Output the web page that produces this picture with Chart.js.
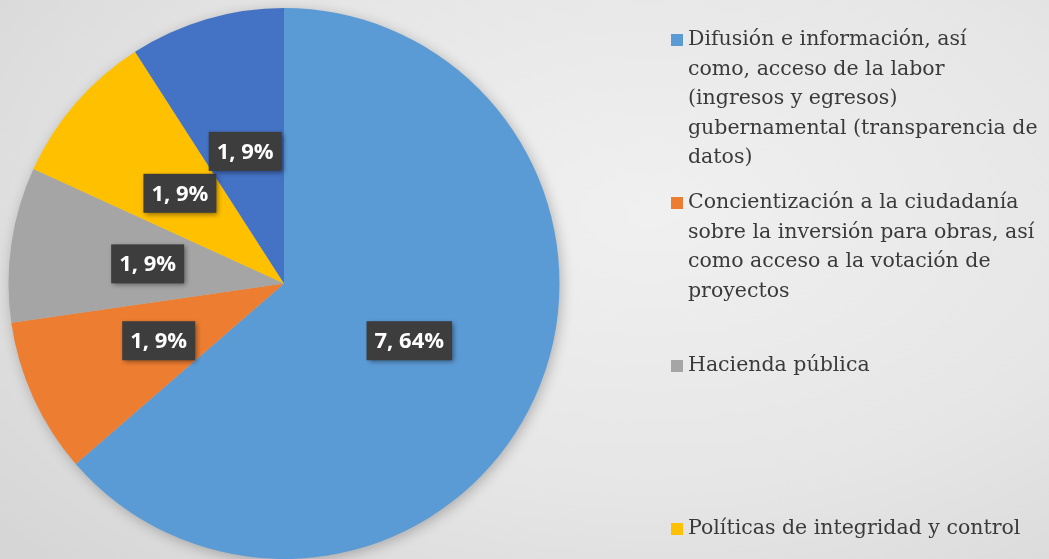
<!DOCTYPE html>
<html lang="es">
<head>
    <meta charset="UTF-8">
    <title>Pastel</title>
    <script src="https://cdn.jsdelivr.net/npm/chart.js@4.4.1/dist/chart.umd.min.js"></script>
    <style>
        html, body {
            margin: 0;
            padding: 0;
            overflow: hidden;
        }
        #wrap {
            width: 1049px;
            height: 559px;
            position: relative;
            background: radial-gradient(ellipse 80% 90% at 62% 38%, #f0f0f0 0%, #e6e6e6 55%, #d6d6d6 100%);
        }
    </style>
</head>
<body>
    <div id="wrap">
        <canvas id="pie" width="1049" height="559"></canvas>
    </div>

    <script>
        // categorias (la quinta queda fuera de la imagen)
        const categories = [
            ['Difusión e información, así', 'como, acceso de la labor', '(ingresos y egresos)', 'gubernamental (transparencia de', 'datos)'],
            ['Concientización a la ciudadanía', 'sobre la inversión para obras, así', 'como acceso a la votación de', 'proyectos'],
            ['Hacienda pública'],
            ['Políticas de integridad y control'],
            ['Otros']
        ];
        const values = [7, 1, 1, 1, 1];
        const colors = ['#5B9BD5', '#ED7D31', '#A5A5A5', '#FFC000', '#4472C4'];

        const total = values.reduce((a, b) => a + b, 0);

        // sombra suave debajo del pastel
        const shadowPlugin = {
            id: 'pieShadow',
            beforeDatasetsDraw(chart) {
                const arc = chart.getDatasetMeta(0).data[0];
                if (!arc) return;
                const ctx = chart.ctx;
                ctx.save();
                ctx.shadowColor = 'rgba(0,0,0,0.28)';
                ctx.shadowBlur = 14;
                ctx.shadowOffsetX = 2;
                ctx.shadowOffsetY = 3;
                ctx.fillStyle = '#bbbbbb';
                ctx.beginPath();
                ctx.arc(arc.x, arc.y, arc.outerRadius - 1, 0, Math.PI * 2);
                ctx.fill();
                ctx.restore();
            }
        };

        // etiquetas "valor, porcentaje" en cajas oscuras
        const boxLabels = {
            id: 'boxLabels',
            afterDatasetsDraw(chart) {
                const ctx = chart.ctx;
                const meta = chart.getDatasetMeta(0);
                ctx.save();
                ctx.font = 'bold 22px "Open Sans", Lato, sans-serif';
                ctx.textAlign = 'center';
                ctx.textBaseline = 'middle';
                meta.data.forEach((arc, i) => {
                    const pos = arc.tooltipPosition();
                    const txt = values[i] + ', ' + Math.round(values[i] / total * 100) + '%';
                    const w = ctx.measureText(txt).width + 16;
                    const h = 39;
                    ctx.save();
                    ctx.shadowColor = 'rgba(0,0,0,0.45)';
                    ctx.shadowBlur = 5;
                    ctx.shadowOffsetX = 2;
                    ctx.shadowOffsetY = 2;
                    ctx.fillStyle = '#3d3d3d';
                    ctx.fillRect(pos.x - w / 2, pos.y - h / 2, w, h);
                    ctx.restore();
                    ctx.fillStyle = '#ffffff';
                    ctx.fillText(txt, pos.x, pos.y + 1);
                });
                ctx.restore();
            }
        };

        // leyenda a la derecha
        const sideLegend = {
            id: 'sideLegend',
            afterDraw(chart) {
                const ctx = chart.ctx;
                const x0 = 671, y0 = 40, step = 163, lineH = 29.5;
                ctx.save();
                ctx.font = '20.5px "DejaVu Serif", serif';
                ctx.textBaseline = 'middle';
                ctx.textAlign = 'left';
                categories.forEach((lines, i) => {
                    const y = y0 + i * step;
                    ctx.fillStyle = colors[i];
                    ctx.fillRect(x0, y - 6, 12, 12);
                    ctx.fillStyle = '#3a3a3a';
                    lines.forEach((ln, j) => ctx.fillText(ln, x0 + 17, y + j * lineH));
                });
                ctx.restore();
            }
        };

        new Chart(document.getElementById('pie').getContext('2d'), {
            type: 'pie',
            data: {
                labels: categories,
                datasets: [{
                    data: values,
                    backgroundColor: colors,
                    borderWidth: 0
                }]
            },
            options: {
                responsive: false,
                animation: false,
                layout: {
                    padding: { left: 8, top: 8, right: 489, bottom: 0 }
                },
                plugins: {
                    legend: { display: false },
                    tooltip: { enabled: false }
                }
            },
            plugins: [shadowPlugin, boxLabels, sideLegend]
        });
    </script>
</body>
</html>
